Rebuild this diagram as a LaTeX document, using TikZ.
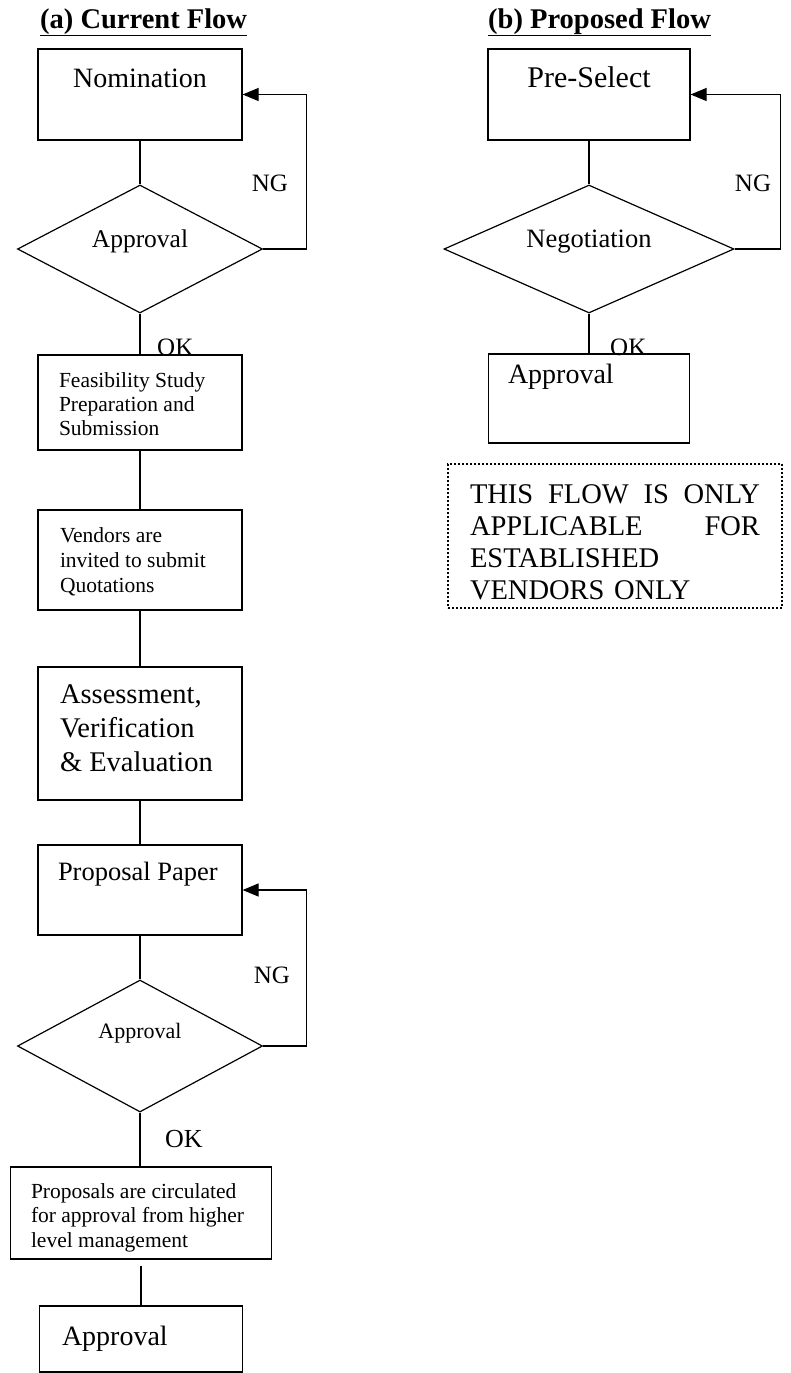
\documentclass[tikz,border=0pt]{standalone}
\usepackage{fontspec}
\setmainfont{Liberation Serif}
\usetikzlibrary{shapes.geometric,arrows.meta}

\begin{document}
\begin{tikzpicture}[x=1pt,y=-1pt,
    box/.style={draw,line width=1.2pt,rectangle,inner xsep=0pt,inner ysep=0pt},
    lbox/.style={box,align=flush left,text width=#1},
    dec/.style={draw,line width=1.2pt,diamond,inner sep=0pt},
    tb/.style 2 args={text height=#1pt,text depth=#2pt},
    fs/.style 2 args={font=\fontsize{#1}{#2}\selectfont},
    link/.style={line width=1.2pt},
    back/.style={line width=1.2pt,-{Triangle[length=16pt,width=13pt]}},
    lbl/.style={inner sep=0pt,fs={25}{30}},
    head/.style={anchor=base west,inner sep=0pt,font=\fontsize{28.5}{34}\selectfont\bfseries}]
    \useasboundingbox (0,0) rectangle (790,1373);

    % (a) current flow
    \node[head] (titleA) at (40,28) {\underline{(a) Current Flow}};
    \node[box,minimum width=204pt,tb={38}{53},fs={28}{34}] (nom) at (140,94.5) {Nomination};
    \node[dec,minimum width=245pt,minimum height=128pt,aspect=1.9,tb={17}{21},fs={25.5}{30}] (appA) at (140,249) {Approval};
    \node[lbox=162pt,minimum width=204pt,tb={32}{63},fs={21.5}{24}] (feas) at (140,402.5) {Feasibility Study\\Preparation and\\Submission};
    \node[lbox=160pt,minimum width=204pt,tb={32}{68},fs={21.5}{25}] (vend) at (140,560) {Vendors are\\invited to submit\\Quotations};
    \node[lbox=160pt,minimum width=204pt,tb={36}{97},fs={28.5}{34}] (assess) at (140,733.5) {Assessment,\\Verification\\\& Evaluation};
    \node[lbox=164pt,minimum width=204pt,tb={35}{55},fs={26.5}{32}] (prop) at (140,890) {Proposal Paper};
    \node[dec,minimum width=245pt,minimum height=132pt,aspect=1.86,tb={15}{31},fs={22}{26}] (appB) at (140,1046) {Approval};
    \node[lbox=220pt,minimum width=261pt,tb={31}{61},fs={21.5}{24.5}] (circ) at (141,1213) {Proposals are circulated\\for approval from higher\\level management};
    \node[lbox=158pt,minimum width=203pt,tb={39}{27},fs={28}{34}] (fin) at (141,1339) {Approval};

    \node[lbl] (ngA) at (270,183) {NG};
    \node[lbl,anchor=base west] (okA) at (157,355) {OK};
    \node[lbl] (ngC) at (272,975) {NG};
    \node[lbl,anchor=base west,fs={26}{30}] (okC) at (165,1147) {OK};

    \draw[link] (nom.south) -- (appA.north);
    \draw[link] (appA.south) -- (feas.north);
    \draw[link] (feas.south) -- (vend.north);
    \draw[link] (vend.south) -- (assess.north);
    \draw[link] (assess.south) -- (prop.north);
    \draw[link] (prop.south) -- (appB.north);
    \draw[link] (appB.south) -- (appB.south |- circ.north);
    \draw[link,shorten <=6pt] (circ.south) -- (fin.north);
    \draw[back] (appA.east) -- ++(43,0) |- (nom.east);
    \draw[back] (appB.east) -- ++(43,0) |- (prop.east);

    % (b) proposed flow
    \node[head] (titleB) at (488,28) {\underline{(b) Proposed Flow}};
    \node[box,minimum width=202pt,tb={38}{53},fs={30}{36}] (pre) at (589,94.5) {Pre-Select};
    \node[dec,minimum width=290pt,minimum height=128pt,aspect=2.27,tb={18}{22},fs={26.5}{32}] (neg) at (589,249) {Negotiation};
    \node[lbox=162pt,minimum width=201pt,tb={29}{60},fs={28}{34}] (appC) at (589,398.5) {Approval};
    \node[draw,line width=1.8pt,dash pattern=on 1.6pt off 2.4pt,align=left,text width=290pt,inner xsep=0pt,inner ysep=0pt,minimum width=334pt,tb={39}{105},fs={28.5}{32.3}] (note) at (615,536) {THIS\hfill FLOW\hfill IS\hfill ONLY\\APPLICABLE\hfill FOR\\ESTABLISHED\\VENDORS ONLY};

    \node[lbl] (ngB) at (753,183) {NG};
    \node[lbl,anchor=base west] (okB) at (610,355) {OK};

    \draw[link] (pre.south) -- (neg.north);
    \draw[link] (neg.south) -- (appC.north);
    \draw[back] (neg.east) -- ++(46,0) |- (pre.east);
\end{tikzpicture}
\end{document}
